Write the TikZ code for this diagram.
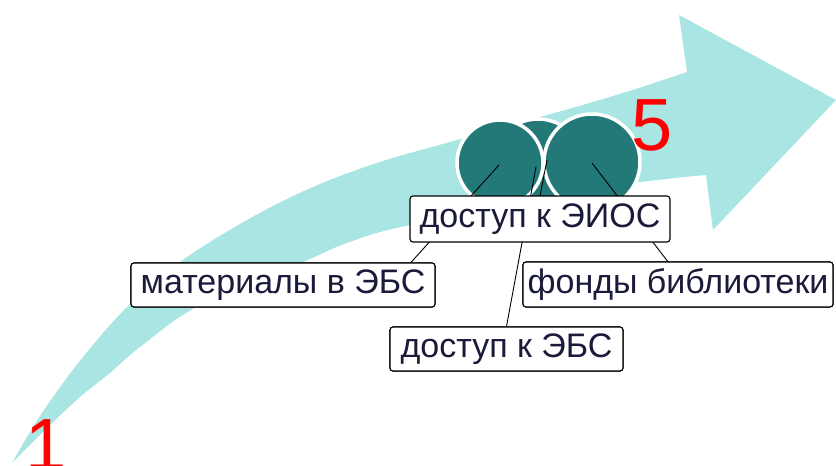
\documentclass[tikz,border=0pt]{standalone}
\usepackage{fontspec}
\setmainfont{Liberation Sans}
\definecolor{bandc}{HTML}{A8E5E3}
\definecolor{ballc}{HTML}{237878}
\definecolor{txtc}{HTML}{1A1A3A}
\begin{document}
\begin{tikzpicture}[x=1pt,y=-1pt,
  ball/.style={circle,fill=ballc,draw=white,line width=3.5pt,inner sep=0pt},
  lbl/.style={draw=black,line width=1.1pt,fill=white,rounded corners=3pt,
    text=txtc,font=\fontsize{34}{38}\selectfont,inner sep=0pt,
    anchor=center},
  num/.style={text=red,font=\fontsize{74}{80}\selectfont,inner sep=0pt},
  lead/.style={draw=black,line width=0.9pt}]
\useasboundingbox (0,0) rectangle (836,466);
% arrow band
\fill[bandc] plot[smooth,tension=0.6] coordinates {(12,463) (33,427) (53,397) (83,357) (127,307) (180,262) (247,220) (313,187) (380,162) (450,142) (600,100) (687,72)}
  -- (679,15) -- (836,100) -- (713,230)
  -- plot[smooth,tension=0.6] coordinates {(706,175) (600,188) (410,225) (347,243) (303,262) (200,305) (140,347) (110,373) (80,397) (45,430) (12,463)} -- cycle;
% balls
\node[ball,minimum size=92pt] (c3) at (538,165) {};
\node[ball,minimum size=86pt] (c1) at (500,163) {};
\node[ball,minimum size=96pt] (c2) at (592,162) {};
% leader start points
\coordinate (p1) at (499,165);
\coordinate (p2) at (536,167);
\coordinate (p3) at (547,160);
\coordinate (p4) at (592,163);
% labels
\node[lbl,minimum width=304pt,minimum height=44pt] (mat) at (283,285) {материалы в ЭБС};
\node[lbl,minimum width=233pt,minimum height=44pt] (ebs) at (506.5,349) {доступ к ЭБС};
\node[lbl,minimum width=310pt,minimum height=45pt] (fond) at (678,284.5) {фонды библиотеки};
% leaders (drawn behind the boxes)
\draw[lead] (p1) -- (mat.10);
\draw[lead] (p2) -- (ebs.north);
\draw[lead] (p4) -- (fond.114);
\draw[lead] (p3) -- (540,196);
% boxes on top of leaders
\node[lbl,minimum width=304pt,minimum height=44pt] at (mat) {материалы в ЭБС};
\node[lbl,minimum width=233pt,minimum height=44pt] at (ebs) {доступ к ЭБС};
\node[lbl,minimum width=310pt,minimum height=45pt] at (fond) {фонды библиотеки};
\node[lbl,minimum width=260pt,minimum height=46pt] (eios) at (540,219) {доступ к ЭИОС};
% numbers
\node[num] (n5) at (652,125) {5};
\node[num] (n1) at (46,445) {1};
\end{tikzpicture}
\end{document}
